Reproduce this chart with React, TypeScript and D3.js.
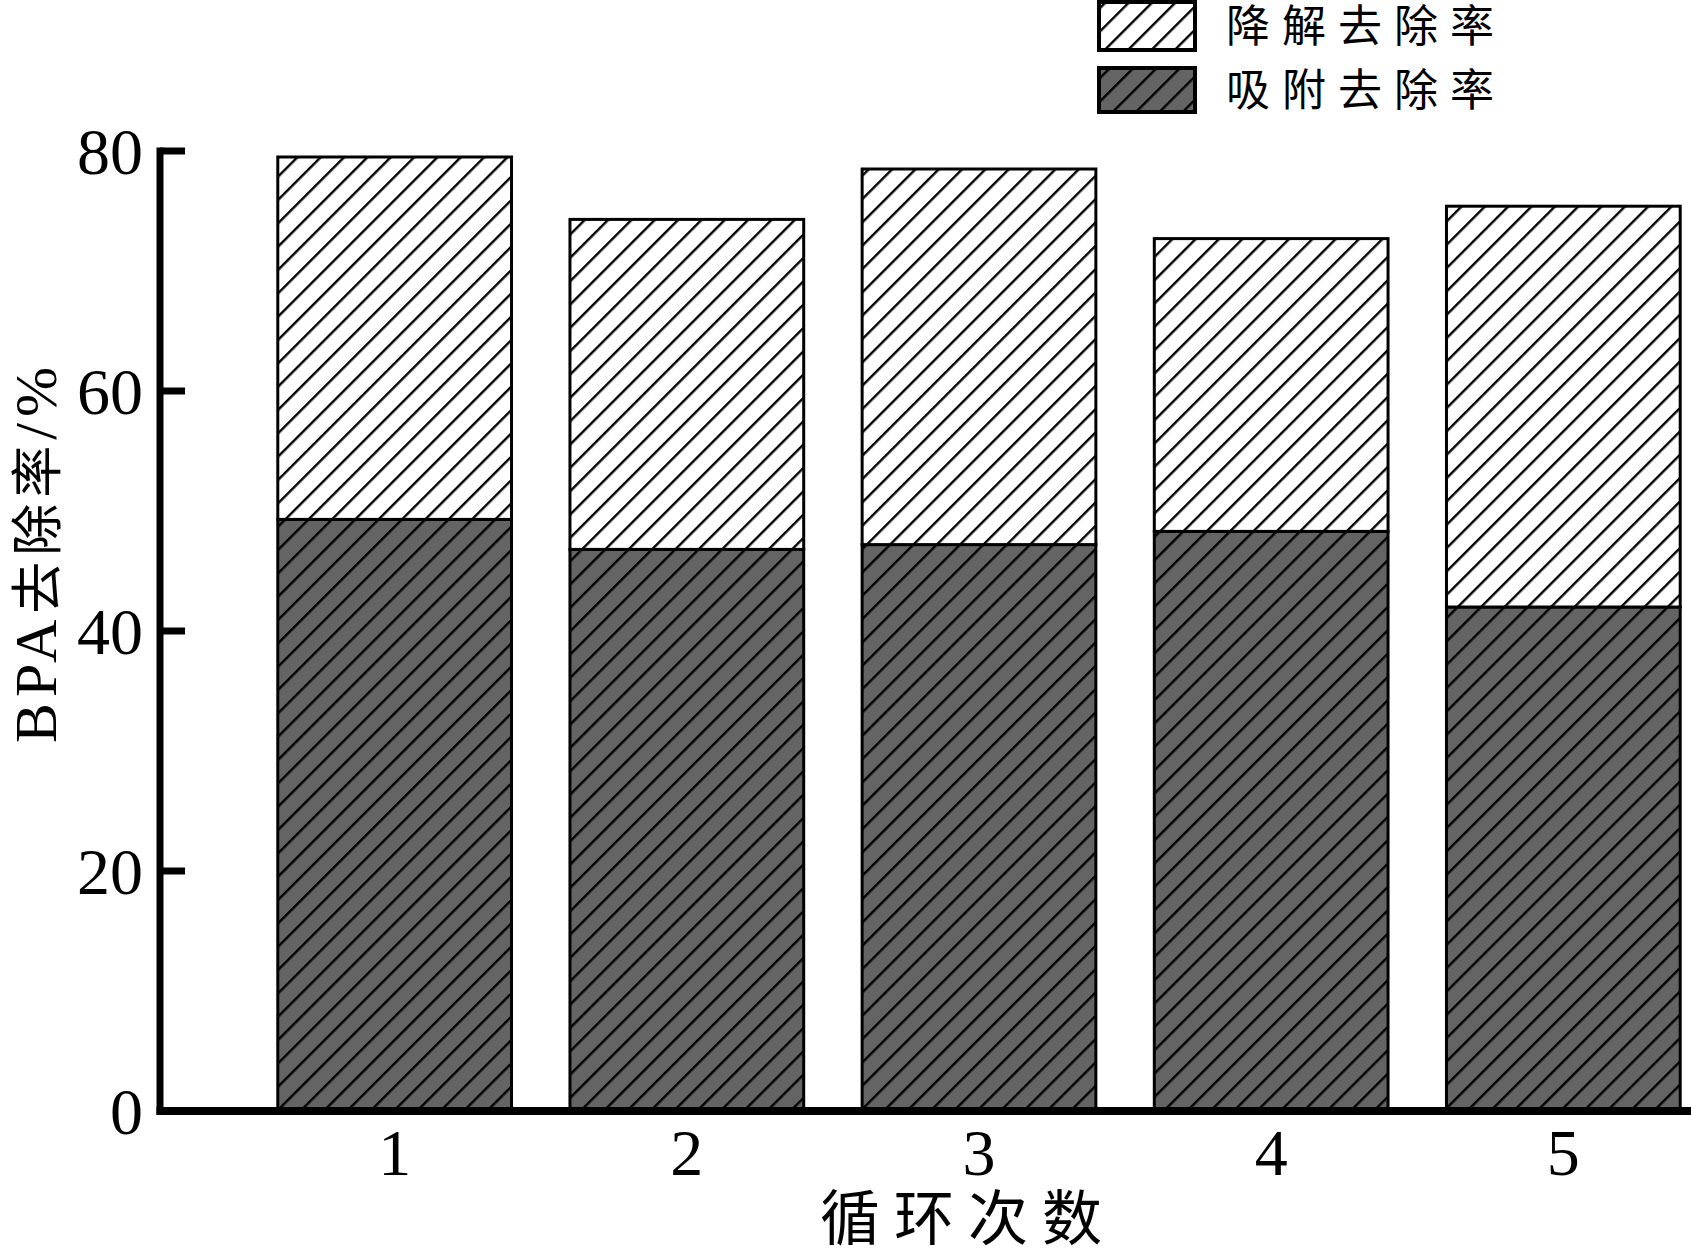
import React from 'react';
import * as d3 from 'd3';

const categories = ['1', '2', '3', '4', '5'];
const adsorption = [49.3, 46.8, 47.2, 48.3, 42.0];
const degradation = [30.2, 27.5, 31.3, 24.4, 33.4];
const yTicks = [0, 20, 40, 60, 80];
const legendLabels = ['降解去除率', '吸附去除率'];
const xTitle = '循环次数';

const W = 1691;
const H = 1249;

export default function App() {
  const y = d3.scaleLinear().domain([0, 80]).range([1111, 151]);
  const x = d3.scaleBand<string>().domain(categories).range([158, 1800]).paddingInner(0.2).paddingOuter(0.41);
  const stack = d3.stack<any>().keys(['ads', 'deg'])(
    categories.map((c, i) => ({ cat: c, ads: adsorption[i], deg: degradation[i] }))
  );
  const serif = '"Liberation Serif", "Times New Roman", "Noto Sans CJK SC", serif';
  const cjk = '"Noto Sans CJK SC", "Liberation Serif", serif';
  const fills = ['url(#hatchDark)', 'url(#hatchLight)'];
  const x0 = 160;
  const yBase = y(0);
  return (
    <svg width={W} height={H} style={{ position: 'absolute', left: 0, top: 0, background: '#fff' }}>
      <defs>
        <pattern id="hatchLight" patternUnits="userSpaceOnUse" width={16.5} height={16.5} patternTransform="rotate(45)">
          <rect width={16.5} height={16.5} fill="#fff" />
          <line x1={8} y1={-1} x2={8} y2={17.5} stroke="#000" strokeWidth={2.4} />
        </pattern>
        <pattern id="hatchDark" patternUnits="userSpaceOnUse" width={16.5} height={16.5} patternTransform="rotate(45)">
          <rect width={16.5} height={16.5} fill="#646464" />
          <line x1={8} y1={-1} x2={8} y2={17.5} stroke="#000" strokeWidth={2.4} />
        </pattern>
      </defs>
      <rect width={W} height={H} fill="#fff" />
      {stack.map((layer, li) =>
        layer.map((d, i) => (
          <rect
            key={`${li}-${i}`}
            x={x(categories[i])}
            y={y(d[1])}
            width={x.bandwidth()}
            height={y(d[0]) - y(d[1])}
            fill={fills[li]}
            stroke="#000"
            strokeWidth={3}
          />
        ))
      )}
      {/* axes */}
      <line x1={x0} y1={y(80) - 3.5} x2={x0} y2={yBase + 4} stroke="#000" strokeWidth={7} />
      <line x1={x0 - 3.5} y1={yBase} x2={W} y2={yBase} stroke="#000" strokeWidth={8} />
      {yTicks.map((t) => (
        <g key={t}>
          <line x1={x0} x2={x0 + 25} y1={y(t)} y2={y(t)} stroke="#000" strokeWidth={7} />
          <text x={143} y={y(t)} dy="0.35em" textAnchor="end" fontFamily={serif} fontSize={66}>
            {t}
          </text>
        </g>
      ))}
      {categories.map((c) => (
        <text key={c} x={(x(c) as number) + x.bandwidth() / 2} y={1175} textAnchor="middle" fontFamily={serif} fontSize={66}>
          {c}
        </text>
      ))}
      <text x={968} y={1240} textAnchor="middle" fontFamily={cjk} fontSize={60} letterSpacing={14}>
        {xTitle}
      </text>
      <text
        transform={`translate(56,552) rotate(-90)`}
        textAnchor="middle"
        fontFamily={serif}
        fontSize={60}
        letterSpacing={6}
      >
        <tspan>BPA</tspan>
        <tspan fontFamily={cjk} fontSize={52}>去除率</tspan>
        <tspan>/%</tspan>
      </text>
      {/* legend */}
      {legendLabels.map((lab, i) => {
        const ly = [2, 68][i];
        const lh = [48, 44][i];
        return (
          <g key={lab}>
            <rect x={1099} y={ly} width={96} height={lh} fill={fills[1 - i]} stroke="#000" strokeWidth={4} />
            <text x={1226} y={ly + lh / 2} dy="0.36em" fontFamily={cjk} fontSize={44} letterSpacing={12}>
              {lab}
            </text>
          </g>
        );
      })}
    </svg>
  );
}
